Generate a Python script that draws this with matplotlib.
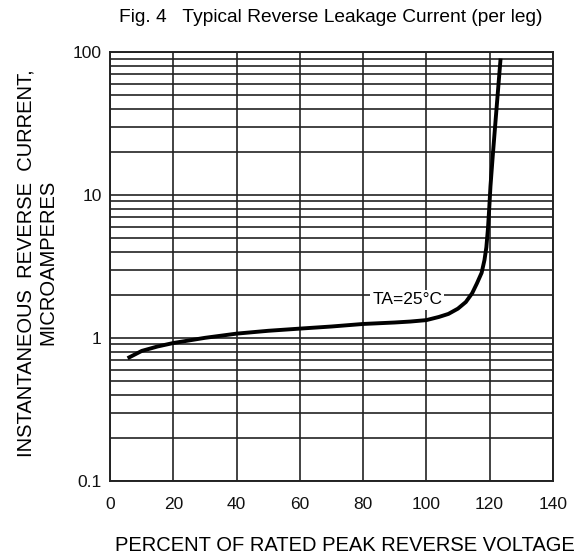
import numpy as np
from matplotlib import pyplot as plt
from matplotlib.ticker import LogLocator, FixedLocator, NullFormatter

plt.rcParams['font.family'] = ['Liberation Sans', 'DejaVu Sans']

# curve
pct = [5.5, 10, 15, 20, 30, 40, 50, 60, 70, 80, 90, 95, 100, 104, 107, 110,
       112.5, 114.5, 116, 117.5, 118.4, 119.0, 119.5, 119.9, 120.3, 121, 122,
       123.5]
current = [0.72, 0.81, 0.87, 0.92, 1.0, 1.07, 1.12, 1.16, 1.2, 1.25, 1.28,
           1.3, 1.33, 1.4, 1.47, 1.6, 1.78, 2.05, 2.4, 2.85, 3.5, 4.3, 5.8,
           8.0, 11.5, 18.5, 35, 90]

x_ticks = [0, 20, 40, 60, 80, 100, 120, 140]
y_ticks = [0.1, 1, 10, 100]
y_labels = ['0.1', '1', '10', '100']

fig = plt.figure(figsize=(5.8, 5.59), dpi=100)
ax = fig.add_axes([0.19, 0.14, 0.763, 0.767])

ax.set_yscale('log')
ax.set_xlim(0, 140)
ax.set_ylim(0.1, 100)

ax.xaxis.set_major_locator(FixedLocator(x_ticks))
ax.set_yticks(y_ticks)
ax.set_yticklabels(y_labels)
ax.yaxis.set_minor_locator(LogLocator(base=10, subs=np.arange(2, 10)))
ax.yaxis.set_minor_formatter(NullFormatter())

gc = '#222222'
ax.grid(True, which='major', axis='both', color=gc, lw=1.2)
ax.grid(True, which='minor', axis='y', color=gc, lw=1.2)
for s in ax.spines.values():
    s.set_color(gc)
    s.set_linewidth(1.4)
ax.tick_params(which='both', length=0, labelsize=12.5, colors='#111111')
ax.tick_params(axis='x', pad=12)
ax.tick_params(axis='y', pad=6)

ax.plot(pct, current, color='black', lw=2.8, solid_capstyle='butt',
        solid_joinstyle='round', zorder=3)

ax.text(94, 1.84, 'TA=25°C', fontsize=12.5, ha='center', va='center',
        bbox=dict(facecolor='white', edgecolor='none', pad=1.5), zorder=4)

fig.text(0.571, 0.968, 'Fig. 4   Typical Reverse Leakage Current (per leg)',
         ha='center', va='center', fontsize=13.8)
fig.text(0.595, 0.025, 'PERCENT OF RATED PEAK REVERSE VOLTAGE',
         ha='center', va='center', fontsize=14.5)
fig.text(0.045, 0.53, 'INSTANTANEOUS  REVERSE  CURRENT,', rotation=90,
         ha='center', va='center', fontsize=14.5)
fig.text(0.083, 0.53, 'MICROAMPERES', rotation=90,
         ha='center', va='center', fontsize=14.5)

fig.savefig('out.png', dpi=100)
